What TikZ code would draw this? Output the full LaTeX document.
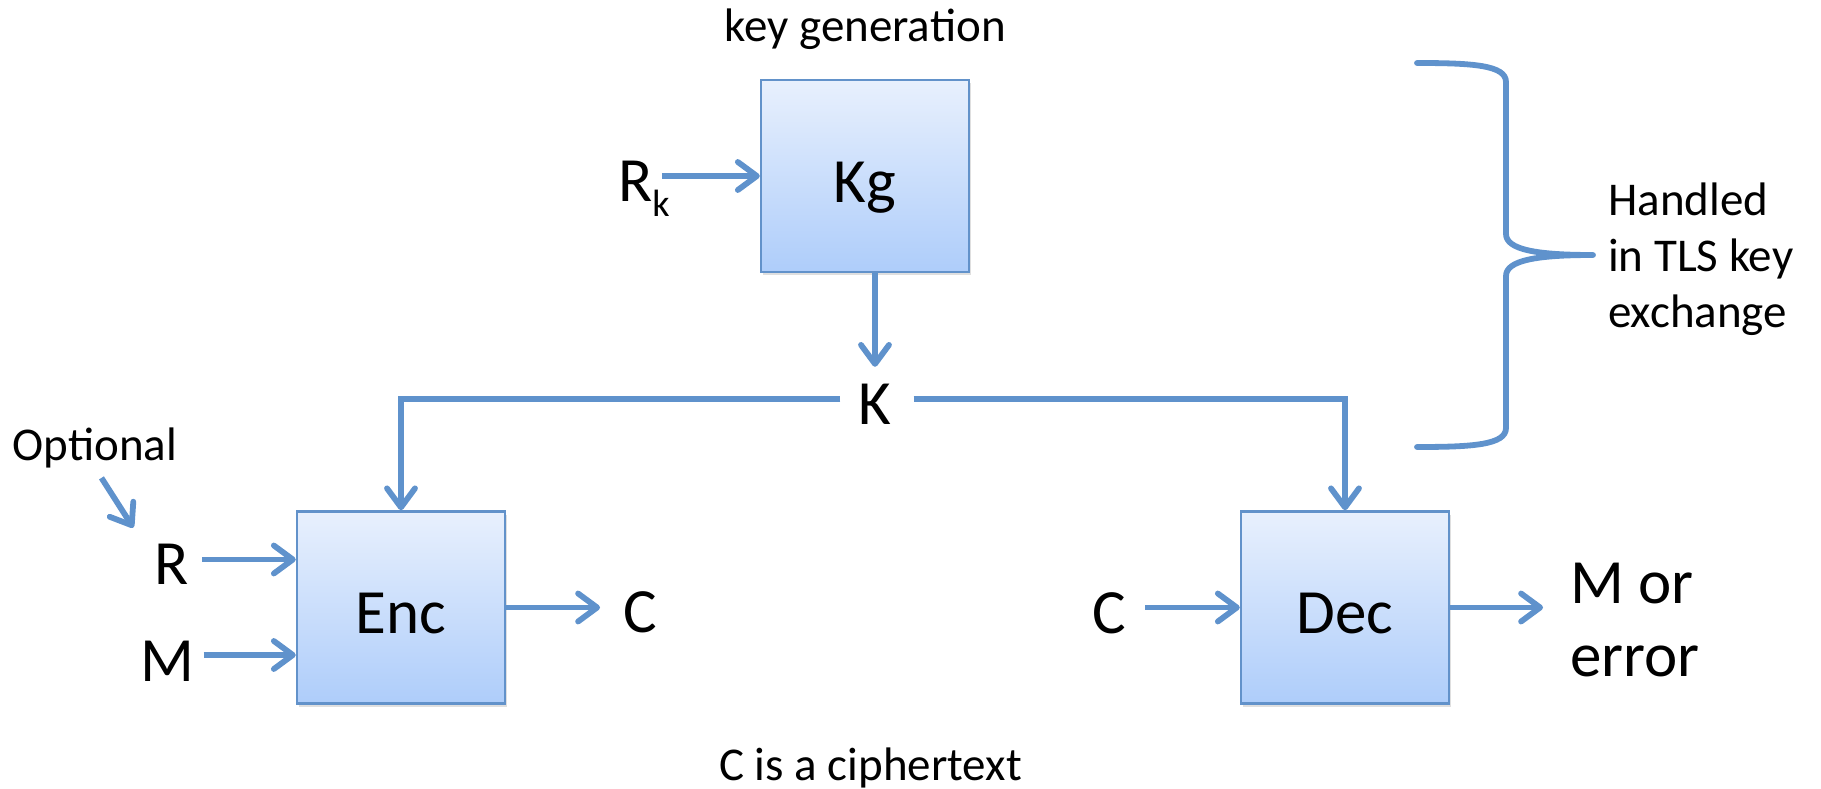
\documentclass[tikz,border=0pt]{standalone}
\usepackage{fontspec}
\setmainfont{Carlito}
\usetikzlibrary{arrows.meta,shadows}
\definecolor{flow}{RGB}{95,146,204}
\definecolor{boxedge}{RGB}{98,146,202}
\definecolor{boxtop}{RGB}{232,240,253}
\definecolor{boxbottom}{RGB}{174,205,250}

\begin{document}
\begin{tikzpicture}[x=1pt,y=-1pt,
  big/.style={font=\fontsize{63pt}{73.4pt}\selectfont},
  small/.style={font=\fontsize{47pt}{55.8pt}\selectfont},
  lbl/.style={inner sep=0pt},
  block/.style={rectangle, draw=boxedge, line width=2.5pt,
    top color=boxtop, bottom color=boxbottom,
    minimum width=208pt, minimum height=192pt, inner sep=0pt,
    text height=52pt, text depth=0pt, big,
    drop shadow={shadow xshift=1.5pt, shadow yshift=-3pt, opacity=0.25}},
  arr/.style={draw=flow, line width=5.8pt,
    -{Straight Barb[length=19pt,width=28pt,round]}},
  brace/.style={draw=flow, line width=5.8pt, line cap=round, line join=round}
]
\useasboundingbox (0,0) rectangle (1821,789);

% blocks
\node[block] (Kg)  at (865,176)    {Kg};
\node[block] (Enc) at (401,607.5)  {Enc};
\node[block] (Dec) at (1345,607.5) {Dec};

% labels
\node[lbl,small,anchor=base] (keygen) at (865,41.7) {key generation};
\node[lbl,big,anchor=base west] (Rk) at (618,201.7)
  {R\raisebox{-15pt}{\fontsize{38pt}{38pt}\selectfont k}};
\node[lbl,big,anchor=base,text height=50pt,text depth=0pt] (K) at (875,424) {K};
\node[lbl,small,anchor=base] (opt) at (95,460) {Optional};
\node[lbl,big,anchor=base] (R) at (171.7,584.3) {R};
\node[lbl,big,anchor=base] (M) at (167.5,681) {M};
\node[lbl,big,anchor=base] (Cout) at (640,632.3) {C};
\node[lbl,big,anchor=base] (Cin) at (1109,633.3) {C};
\node[lbl,big,anchor=west,align=left] (Mout) at (1570,620) {M or\\error};
\node[lbl,small,anchor=west,align=left] (tls) at (1608,259)
  {Handled\\in TLS key\\exchange};
\node[lbl,small,anchor=base] (note) at (870.5,780) {C is a ciphertext};

% input rows on the encryption block
\coordinate (inR) at ([yshift=48pt]Enc.west);
\coordinate (inM) at ([yshift=-47.5pt]Enc.west);
\coordinate (optTip) at (133.3,527.7);

% connectors
\draw[arr, shorten <=-8pt] (Rk.east |- Kg.west) -- (Kg.west);
\draw[arr, shorten >=7pt] (K.north |- Kg.south) -- (K.north);
\draw[arr, shorten <=18pt] (K.west) -| (Enc.north);
\draw[arr, shorten <=22pt] (K.east) -| (Dec.north);
\draw[arr, shorten <=13pt] (R.east |- inR) -- (inR);
\draw[arr, shorten <=9pt] (M.east |- inM) -- (inM);
\draw[arr, shorten >=23pt] (Enc.east) -- (Cout.west |- Enc.east);
\draw[arr, shorten <=19pt] (Cin.east |- Dec.west) -- (Dec.west);
\draw[arr, shorten >=27pt] (Dec.east) -- (Mout.west |- Dec.east);
\draw[arr, shorten <=12pt] (opt.south) -- (optTip);

% brace around the key generation part
\draw[brace] (1417,63) .. controls (1472,63) and (1506,65) .. (1506,82)
  -- (1506,234) .. controls (1506,250) and (1538,255) .. (1593,255)
  .. controls (1538,255) and (1506,260) .. (1506,276)
  -- (1506,428) .. controls (1506,445) and (1472,447) .. (1417,447);
\end{tikzpicture}
\end{document}
